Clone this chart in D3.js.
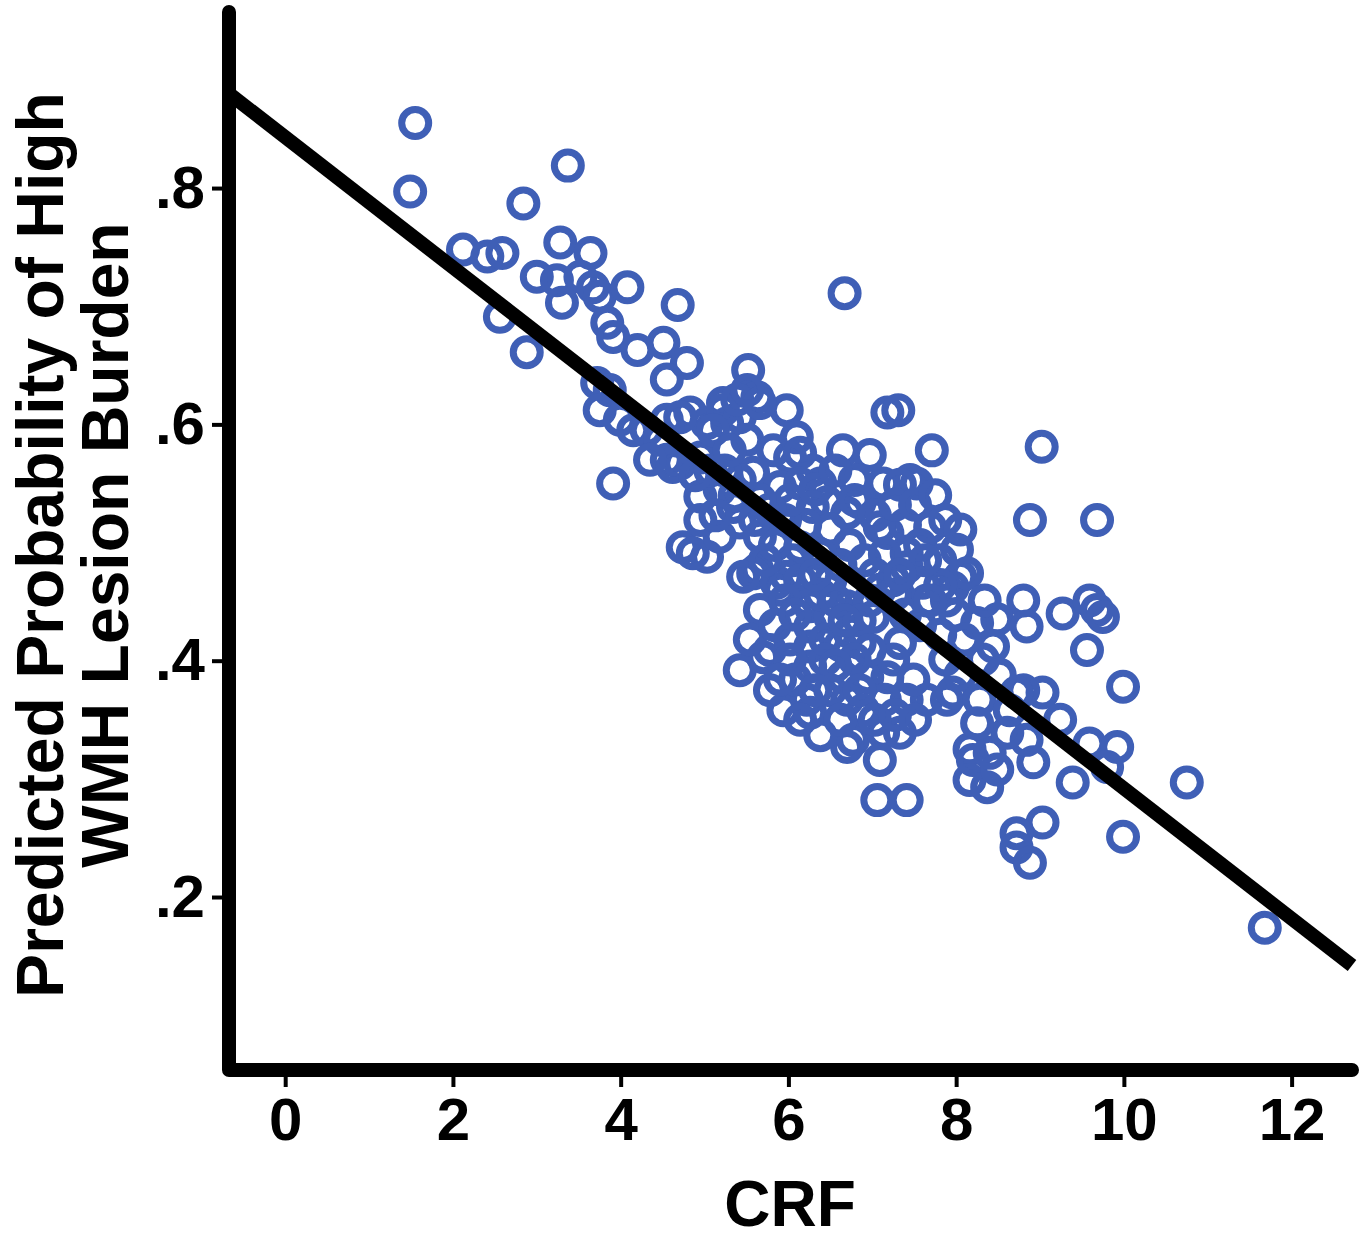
<!DOCTYPE html>
<html>
<head>
<meta charset="utf-8">
<script src="https://cdn.jsdelivr.net/npm/d3@7"></script>
<style>
	html, body { margin: 0; padding: 0; background: #fff; }
	svg { display: block; }
	text { font-family: 'Liberation Sans', Arial, Helvetica, sans-serif; font-weight: bold; fill: #000; }
</style>
</head>
<body>
<svg></svg>
<script>
const pointColor = '#3f5fb6';
const axisColor = '#000';

// CRF (x) and predicted probability (y)
const crf = [
	1.55, 1.49, 3.37, 2.84, 2.12, 2.41, 2.59, 3.28, 3.64, 3.00,
	3.24, 3.52, 3.67, 3.75, 4.08, 3.30, 2.56, 4.68, 2.88, 3.84,
	3.91, 4.20, 4.51, 4.79, 3.72, 3.87, 3.75, 3.99, 4.15, 4.55,
	4.83, 5.03, 4.55, 4.71, 3.91, 4.95, 5.27, 6.67, 4.55, 5.52,
	5.22, 5.63, 5.98, 5.42, 6.10, 6.02, 6.29, 6.65, 7.18, 7.31,
	7.71, 7.13, 7.45, 7.53, 6.85, 6.70, 7.09, 7.69, 7.41, 8.01,
	8.05, 6.38, 6.46, 4.31, 4.62, 4.74, 5.03, 5.63, 5.90, 4.71,
	5.22, 5.39, 5.66, 5.51, 5.10, 5.51, 5.82, 6.14, 5.58, 5.90,
	6.14, 5.18, 4.95, 4.86, 5.18, 5.42, 5.66, 5.58, 5.66, 5.86,
	6.05, 6.14, 6.22, 6.29, 5.34, 5.78, 5.70, 5.42, 5.94, 6.22,
	6.26, 6.26, 6.26, 6.26, 6.26, 6.70, 6.85, 6.65, 6.94, 7.18,
	6.70, 6.77, 6.70, 7.13, 7.09, 7.06, 7.41, 7.41, 7.65, 7.89,
	7.65, 7.96, 8.13, 7.25, 7.41, 8.16, 8.16, 6.89, 6.50, 6.73,
	7.01, 7.33, 7.25, 5.98, 5.46, 9.02, 7.33, 8.88, 9.68, 7.18,
	7.60, 7.89, 8.80, 8.49, 8.84, 8.25, 9.27, 9.59, 9.68, 9.75,
	9.56, 9.99, 8.32, 8.44, 8.80, 9.03, 9.24, 9.59, 9.92, 9.80,
	9.39, 10.75, 9.99, 9.03, 8.72, 8.72, 8.88, 8.20, 8.37, 8.49,
	8.40, 8.92, 8.84, 8.61, 8.25, 7.96, 7.49, 7.33, 8.72, 11.68,
	6.50, 6.73, 6.91, 6.62, 7.03, 6.38, 6.20, 5.96, 6.02, 5.78,
	6.73, 6.50, 6.97, 7.15, 7.27, 7.39, 7.57, 7.81, 6.85, 6.62,
	6.38, 6.14, 5.84, 5.66, 5.42, 5.24, 7.81, 7.99, 8.10, 7.87,
	8.05, 8.28, 6.97, 7.15, 6.50, 6.44, 6.02, 6.08, 5.78, 5.54,
	4.95, 4.47, 4.35, 5.07, 5.30, 6.97, 6.79, 7.39, 7.57, 7.81,
	8.34, 8.52, 8.64, 5.72, 5.96, 5.84, 6.08, 6.32, 6.56, 6.44,
	6.67, 6.79, 6.56, 6.32, 6.02, 5.90, 6.14, 6.38, 6.62, 6.85,
	7.03, 7.27, 7.51, 6.32, 6.56, 6.79, 7.03, 7.27, 7.51, 7.75,
	7.87, 8.05, 7.63, 7.09, 7.33, 7.69, 5.36, 5.60, 5.13, 4.89,
];
const probability = [
	0.855, 0.797, 0.819, 0.787, 0.748, 0.742, 0.745, 0.754, 0.745, 0.725,
	0.722, 0.725, 0.716, 0.708, 0.716, 0.703, 0.691, 0.701, 0.661, 0.686,
	0.674, 0.663, 0.669, 0.652, 0.635, 0.629, 0.612, 0.604, 0.595, 0.604,
	0.610, 0.601, 0.570, 0.567, 0.550, 0.572, 0.601, 0.711, 0.638, 0.646,
	0.618, 0.623, 0.612, 0.606, 0.589, 0.572, 0.561, 0.578, 0.610, 0.612,
	0.578, 0.550, 0.553, 0.550, 0.534, 0.525, 0.513, 0.513, 0.491, 0.494,
	0.471, 0.550, 0.534, 0.595, 0.564, 0.496, 0.488, 0.477, 0.460, 0.606,
	0.612, 0.621, 0.618, 0.629, 0.595, 0.587, 0.578, 0.576, 0.559, 0.547,
	0.550, 0.545, 0.539, 0.491, 0.505, 0.517, 0.505, 0.474, 0.443, 0.466,
	0.485, 0.496, 0.451, 0.530, 0.530, 0.409, 0.403, 0.392, 0.358, 0.367,
	0.356, 0.446, 0.429, 0.412, 0.395, 0.446, 0.415, 0.386, 0.386, 0.386,
	0.367, 0.333, 0.327, 0.339, 0.316, 0.282, 0.282, 0.367, 0.367, 0.367,
	0.451, 0.462, 0.474, 0.468, 0.479, 0.325, 0.299, 0.358, 0.437, 0.424,
	0.437, 0.415, 0.401, 0.471, 0.471, 0.581, 0.549, 0.519, 0.519, 0.508,
	0.466, 0.451, 0.451, 0.435, 0.429, 0.432, 0.440, 0.451, 0.443, 0.437,
	0.409, 0.378, 0.401, 0.412, 0.375, 0.373, 0.350, 0.330, 0.327, 0.310,
	0.297, 0.297, 0.251, 0.263, 0.254, 0.242, 0.229, 0.316, 0.293, 0.308,
	0.322, 0.314, 0.333, 0.339, 0.347, 0.373, 0.384, 0.339, 0.373, 0.174,
	0.511, 0.498, 0.485, 0.481, 0.473, 0.490, 0.515, 0.519, 0.536, 0.528,
	0.460, 0.468, 0.451, 0.490, 0.456, 0.439, 0.430, 0.422, 0.434, 0.413,
	0.456, 0.468, 0.498, 0.536, 0.553, 0.561, 0.485, 0.439, 0.418, 0.401,
	0.388, 0.367, 0.409, 0.367, 0.375, 0.401, 0.418, 0.384, 0.375, 0.418,
	0.519, 0.587, 0.570, 0.561, 0.578, 0.574, 0.553, 0.515, 0.498, 0.464,
	0.451, 0.388, 0.358, 0.485, 0.451, 0.430, 0.439, 0.473, 0.451, 0.418,
	0.434, 0.401, 0.396, 0.375, 0.401, 0.384, 0.350, 0.337, 0.350, 0.375,
	0.350, 0.354, 0.350, 0.545, 0.561, 0.536, 0.523, 0.532, 0.532, 0.540,
	0.519, 0.511, 0.485, 0.460, 0.473, 0.451, 0.540, 0.519, 0.523, 0.557,
];

// fitted regression line, ends at the axis limits
const fitX = [-0.67, 12.72];
const fitY = [0.880, 0.142];

const xDomain = [-0.67, 12.72];
const yDomain = [0.0536, 0.949];
const xTicks = [0, 2, 4, 6, 8, 10, 12];
const yTicks = [0.2, 0.4, 0.6, 0.8];
const yTitleLines = ['Predicted Probability of High', 'WMH Lesion Burden'];
const xTitle = 'CRF';

const width = 1366;
const height = 1239;

const points = crf.map((c, i) => ({ x: c, y: probability[i] }));

const svg = d3.select('svg')
	.attr('width', width)
	.attr('height', height)
	.attr('viewBox', [0, 0, width, height]);

const x = d3.scaleLinear()
	.domain(xDomain)
	.range([229, 1352]);

const y = d3.scaleLinear()
	.domain(yDomain)
	.range([1070, 12]);

// axes: ticks and labels from d3, the thick L frame drawn separately
const xAxis = svg.append('g')
	.attr('transform', `translate(0,${y.range()[0]})`)
	.call(
		d3.axisBottom(x)
			.tickValues(xTicks)
			.tickFormat(d3.format('d'))
			.tickSize(17)
			.tickSizeOuter(0)
			.tickPadding(10)
	);

const yAxis = svg.append('g')
	.attr('transform', `translate(${x.range()[0]},0)`)
	.call(
		d3.axisLeft(y)
			.tickValues(yTicks)
			.tickFormat((d) => d3.format('.1f')(d).replace(/^0/, ''))
			.tickSize(17)
			.tickSizeOuter(0)
			.tickPadding(7)
	);

[xAxis, yAxis].forEach((ax) => {
	ax.select('.domain').remove();
	ax.selectAll('.tick line')
		.attr('stroke', axisColor)
		.attr('stroke-width', 4);
	ax.selectAll('.tick text')
		.attr('fill', axisColor)
		.style('font-size', '60px')
		.style('font-family', "'Liberation Sans', Arial, sans-serif")
		.style('font-weight', 'bold');
});

svg.append('path')
	.attr('d', `M${x.range()[0]},${y.range()[1]}V${y.range()[0]}H${x.range()[1]}`)
	.attr('fill', 'none')
	.attr('stroke', axisColor)
	.attr('stroke-width', 14)
	.attr('stroke-linecap', 'round')
	.attr('stroke-linejoin', 'round');

// scatter
svg.append('g')
	.selectAll('circle')
	.data(points)
	.enter()
		.append('circle')
		.attr('cx', (d) => x(d.x))
		.attr('cy', (d) => y(d.y))
		.attr('r', 13.5)
		.attr('fill', 'none')
		.attr('stroke', pointColor)
		.attr('stroke-width', 7);

// regression line on top
svg.append('line')
	.attr('x1', x(fitX[0]))
	.attr('y1', y(fitY[0]))
	.attr('x2', x(fitX[1]))
	.attr('y2', y(fitY[1]))
	.attr('stroke', '#000')
	.attr('stroke-width', 14);

// titles
svg.append('text')
	.attr('transform', 'translate(63,545) rotate(-90)')
	.attr('text-anchor', 'middle')
	.style('font-size', '66px')
	.text(yTitleLines[0]);

svg.append('text')
	.attr('transform', 'translate(128,545) rotate(-90)')
	.attr('text-anchor', 'middle')
	.style('font-size', '66px')
	.text(yTitleLines[1]);

svg.append('text')
	.attr('x', 790)
	.attr('y', 1226)
	.attr('text-anchor', 'middle')
	.style('font-size', '64px')
	.text(xTitle);
</script>
</body>
</html>
